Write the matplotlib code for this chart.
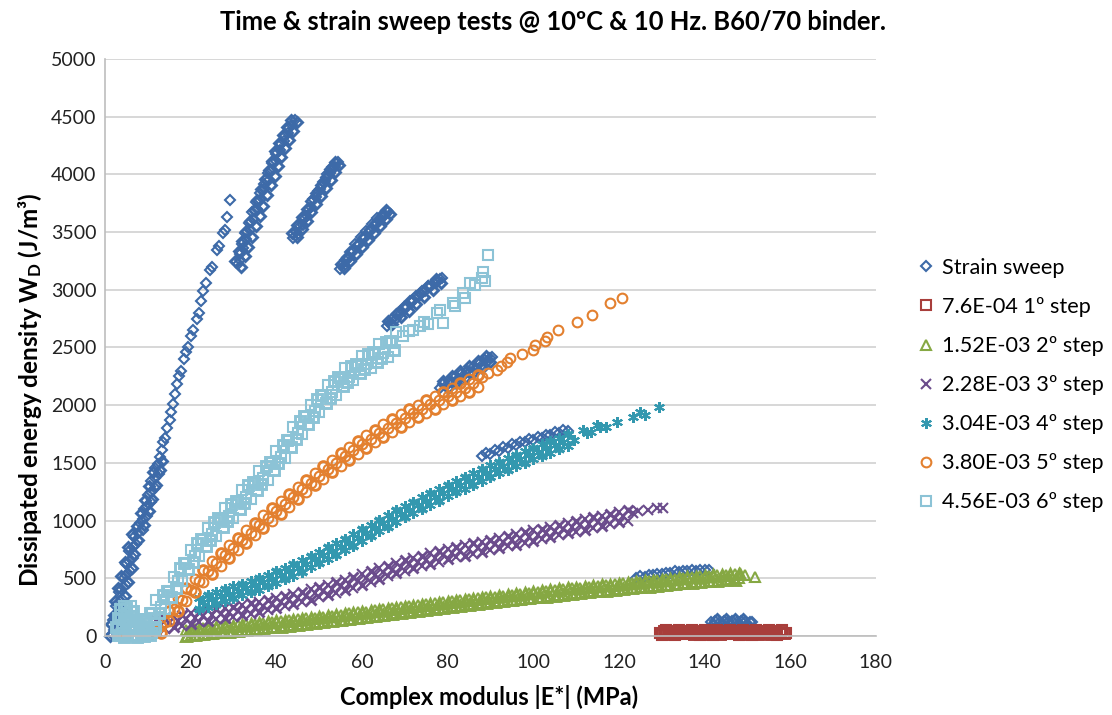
import matplotlib
matplotlib.use("Agg")
import matplotlib.pyplot as plt

plt.rcParams['font.family'] = ['Lato', 'DejaVu Sans']
plt.rcParams['mathtext.fontset'] = 'custom'
plt.rcParams['mathtext.rm'] = 'Lato'
plt.rcParams['mathtext.bf'] = 'Lato:bold'

# ---- data ----
# strain sweep (blue diamonds), segments one after another
sweep_x = [1.6, 2.2, 2.9, 1.9, 2.6, 3.4, 2.5, 3.1, 4.0, 3.2, 3.8, 5.0, 4.4, 5.0, 5.9, 5.0, 5.7, 6.5, 5.7, 6.5,
           7.3, 6.8, 7.8, 8.8, 8.1, 8.9, 9.8, 9.1, 9.9, 10.7, 10.0, 10.8, 11.6, 10.8, 11.6, 12.5, 11.7, 12.3,
           12.8, 13.2, 13.6, 14.1, 14.5, 15.2, 15.5, 15.9, 16.3, 16.8, 17.3, 17.8, 18.4, 19.0, 19.4, 20.0, 20.6,
           21.5, 21.9, 22.4, 22.9, 23.6, 24.5, 25.0, 26.1, 26.6, 27.6, 28.0, 28.5, 29.2,
           31.0, 31.6, 31.5, 32.3, 32.0, 33.0, 32.8, 33.8, 33.6, 34.6, 34.4, 35.4, 35.2, 36.2, 36.3, 37.2, 37.1,
           38.2, 38.0, 39.0, 38.9, 40.0, 40.0, 40.9, 41.0, 41.8, 42.0, 42.8, 43.0, 43.7, 44.4,
           43.9, 44.5, 45.0, 45.5, 46.2, 46.6, 47.2, 47.6, 48.2, 48.6, 49.3, 49.8, 50.3, 50.8, 51.4, 51.9, 52.5,
           53.0, 53.6, 54.4,
           54.9, 55.6, 56.0, 56.8, 57.2, 58.0, 58.4, 59.2, 59.7, 60.5, 61.0, 61.8, 62.3, 63.0, 63.6, 64.3, 65.0,
           65.4, 66.1,
           65.8, 66.6, 67.0, 67.9, 68.4, 69.2, 69.8, 70.6, 71.2, 72.0, 72.6, 73.4, 74.0, 74.8, 75.4, 76.2, 76.8,
           77.6, 78.2, 78.7,
           78.2, 79.0, 79.6, 80.4, 81.0, 81.8, 82.4, 83.2, 83.8, 84.6, 85.2, 86.0, 86.6, 87.4, 88.0, 88.8, 89.4,
           90.0, 90.4,
           88, 89, 90, 91, 92, 93, 94, 95, 96, 97, 98, 99, 100, 101, 102, 103, 104, 105, 106, 107, 108,
           124, 125, 126, 127, 128, 129, 130, 131, 132, 133, 134, 135, 136, 137, 138, 139, 140, 141,
           141.5, 142.5, 143.5, 144.5, 145.5, 146.5, 147.5, 148.5, 149.5, 150.5, 151]
sweep_y = [20, 50, 80, 140, 170, 200, 260, 290, 320, 380, 410, 440, 500, 530, 560, 620, 650, 680, 740, 770,
           800, 860, 890, 920, 980, 1010, 1040, 1100, 1130, 1160, 1220, 1250, 1280, 1340, 1370, 1400, 1460, 1490,
           1550, 1610, 1680, 1720, 1800, 1870, 1940, 2010, 2100, 2180, 2250, 2300, 2400, 2460, 2504, 2600, 2650,
           2750, 2800, 2900, 2990, 3060, 3170, 3200, 3345, 3380, 3492, 3520, 3631, 3778,
           3220, 3260, 3310, 3360, 3400, 3440, 3490, 3520, 3580, 3610, 3670, 3700, 3760, 3780, 3840, 3870, 3920,
           3950, 4010, 4040, 4100, 4120, 4180, 4211, 4260, 4290, 4330, 4360, 4400, 4430, 4471,
           3449, 3500, 3480, 3550, 3560, 3620, 3640, 3700, 3720, 3790, 3800, 3860, 3870, 3930, 3940, 4000, 4010,
           4060, 4060, 4107,
           3180, 3200, 3260, 3270, 3330, 3340, 3400, 3400, 3460, 3460, 3510, 3520, 3570, 3570, 3620, 3620, 3660,
           3650, 3674,
           2690, 2700, 2750, 2750, 2800, 2800, 2850, 2850, 2900, 2900, 2950, 2950, 2990, 2990, 3030, 3030, 3060,
           3070, 3090, 3102,
           2150, 2180, 2170, 2210, 2200, 2240, 2230, 2270, 2260, 2300, 2290, 2330, 2320, 2360, 2350, 2390, 2380,
           2410, 2418,
           1560, 1590, 1580, 1610, 1605, 1635, 1630, 1660, 1655, 1685, 1680, 1705, 1700, 1725, 1720, 1745, 1740,
           1765, 1760, 1785, 1780,
           505, 520, 515, 530, 525, 540, 535, 550, 545, 560, 555, 565, 560, 570, 565, 572, 568, 570,
           120, 130, 118, 128, 120, 130, 118, 128, 120, 125, 120]
# more strain sweep points inside the thick parts of the cloud
sweep_x2 = [1.2, 3.3, 1.5, 3.6, 2.0, 4.0, 2.3, 4.6, 3.0, 5.4, 3.8, 6.2, 4.6, 6.8, 5.3, 7.8, 6.2, 9.2, 7.4, 10.2,
            8.5, 11.0, 9.4, 12.0, 10.3, 12.8, 11.2, 13.2,
            31.8, 32.7, 33.5, 34.4, 35.3, 36.2, 37.0, 37.9, 38.8, 39.6, 40.4, 41.2, 42.0, 42.9, 43.9, 44.8,
            30.4, 31.3, 32.1, 33.0, 33.9, 34.7, 35.6, 36.5, 37.4, 38.2, 39.0, 39.8, 40.7, 41.5, 42.5, 43.5,
            44.9, 46.0, 47.1, 48.2, 49.3, 50.4, 51.5, 52.7, 53.8, 54.7, 43.7, 44.9, 46.0, 47.1, 48.2, 49.3,
            50.4, 51.5, 52.6, 53.6,
            55.9, 57.3, 58.7, 60.0, 61.4, 62.7, 64.1, 65.5, 66.6, 55.0, 56.4, 57.7, 59.1, 60.5, 61.8, 63.2,
            64.6, 65.7,
            67.1, 69.0, 70.9, 72.7, 74.6, 76.5, 78.4, 66.0, 67.9, 69.8, 71.7, 73.6, 75.4, 77.3,
            79, 81, 83, 85, 87, 89, 80, 82, 84, 86, 88, 90,
            142, 144, 146, 148, 150, 143, 145, 147, 149]
sweep_y2 = [0, 40, 100, 120, 180, 230, 300, 350, 420, 470, 520, 590, 640, 710, 770, 830, 880, 960, 950, 1080,
            1070, 1190, 1180, 1310, 1300, 1440, 1420, 1520,
            3200, 3290, 3370, 3460, 3550, 3640, 3730, 3820, 3910, 3990, 4070, 4150, 4230, 4300, 4380, 4450,
            3250, 3340, 3420, 3510, 3600, 3690, 3780, 3870, 3960, 4040, 4120, 4200, 4270, 4340, 4410, 4470,
            3460, 3530, 3600, 3670, 3740, 3810, 3880, 3950, 4020, 4080, 3490, 3560, 3630, 3700, 3770, 3840,
            3910, 3980, 4050, 4110,
            3190, 3250, 3310, 3370, 3430, 3490, 3550, 3610, 3660, 3220, 3280, 3340, 3400, 3460, 3520, 3580,
            3640, 3690,
            2700, 2760, 2820, 2880, 2940, 3000, 3060, 2730, 2790, 2850, 2910, 2970, 3030, 3090,
            2208, 2252, 2296, 2340, 2384, 2428, 2150, 2194, 2238, 2282, 2326, 2370,
            100, 105, 100, 105, 100, 145, 148, 145, 145]

# 7.6E-04 1º step (red squares)
step1_x = [129.5, 130, 131, 132, 133, 134, 135, 136, 137, 138, 139, 140, 141, 142, 143, 144, 145, 146, 147,
           148, 149, 150, 151, 152, 153, 154, 155, 156, 157, 158, 159]
step1_y = [30, 12, 50, 30, 12, 48, 30, 14, 50, 28, 12, 48, 30, 12, 50, 30, 14, 48, 30, 12,
           50, 30, 12, 48, 30, 14, 50, 28, 12, 48, 30]
step1_x2 = [130.5, 131.5, 132.5, 133.5, 134.5, 135.5, 136.5, 137.5, 138.5, 139.5, 140.5, 141.5, 142.5, 143.5,
            144.5, 145.5, 146.5, 147.5, 148.5, 149.5, 150.5, 151.5, 152.5, 153.5, 154.5, 155.5, 156.5, 157.5,
            158.5]
step1_y2 = [40, 20, 45, 35, 22, 42, 38, 18, 45, 35, 20, 42, 40, 20, 45, 35, 22, 42, 38, 18, 45, 35, 20, 42,
            40, 20, 45, 35, 22]

# 1.52E-03 2º step (green triangles)
step2_x = [19, 20, 21, 22, 23, 24, 25, 26, 27, 28, 29, 30, 31, 32, 33, 34, 35, 36, 37, 38, 39, 40,
           41, 42, 43, 44, 45, 46, 47, 48, 49, 50, 51, 52, 53, 54, 55, 56, 57, 58, 59, 60,
           61, 62, 63, 64, 65, 66, 67, 68, 69, 70, 71, 72, 73, 74, 75, 76, 77, 78, 79, 80,
           81, 82, 83, 84, 85, 86, 87, 88, 89, 90, 91, 92, 93, 94, 95, 96, 97, 98, 99, 100,
           101, 102, 103, 104, 105, 106, 107, 108, 109, 110, 111, 112, 113, 114, 115, 116, 117, 118, 119, 120,
           121, 122, 123, 124, 125, 126, 127, 128, 129, 130, 131, 132, 133, 134, 135, 136, 137, 138, 139, 140,
           141, 142, 143, 144, 145, 146, 147, 148, 148.3, 149.5, 151.8]
step2_y = [50, 5, 58, 12, 65, 20, 72, 28, 80, 35, 86, 40, 92, 48, 100, 55, 108, 62, 115, 70, 122, 78,
           130, 86, 138, 94, 145, 102, 152, 110, 160, 118, 168, 126, 176, 134, 185, 142, 195, 150, 204, 160,
           212, 168, 221, 176, 230, 186, 240, 195, 248, 205, 258, 214, 268, 224, 276, 232, 284, 240, 292, 250,
           300, 258, 310, 266, 318, 274, 326, 284, 334, 292, 342, 300, 350, 308, 358, 316, 366, 324, 374, 333,
           382, 340, 390, 348, 398, 356, 406, 364, 414, 372, 420, 380, 427, 386, 434, 392, 441, 398, 448, 405,
           455, 412, 462, 418, 469, 425, 476, 432, 483, 438, 490, 445, 497, 452, 504, 459, 511, 466, 518, 472,
           523, 478, 528, 484, 532, 490, 535, 505, 546, 530, 515]
step2_x2 = step2_x[:130]
step2_y2 = [2, 53, 10, 60, 17, 68, 24, 76, 32, 83, 38, 88, 44, 96, 52, 103, 60, 110, 67, 118, 74, 126,
            82, 134, 90, 142, 97, 150, 104, 158, 112, 166, 120, 174, 128, 182, 137, 190, 147, 198, 156, 208,
            164, 216, 173, 224, 182, 234, 192, 243, 200, 253, 210, 262, 220, 272, 228, 280, 236, 288, 244, 298,
            252, 306, 262, 314, 270, 322, 278, 332, 286, 340, 294, 348, 302, 356, 310, 364, 318, 372, 326, 381,
            334, 388, 342, 396, 350, 404, 358, 412, 366, 420, 372, 428, 379, 434, 386, 440, 393, 446, 400, 453,
            407, 460, 414, 466, 421, 473, 428, 480, 435, 486, 442, 493, 449, 500, 456, 507, 463, 514, 470, 520,
            475, 526, 480, 532, 484, 538, 487, 540]

# 2.28E-03 3º step (purple crosses)
step3_x = [10.5, 11.5, 12, 13, 14, 15, 16, 17, 18, 19, 20, 21, 22, 23, 24, 25, 26, 27, 28, 29, 30,
           31, 32, 33, 34, 35, 36, 37, 38, 39, 40, 41, 42, 43, 44, 45, 46, 47, 48, 49, 50,
           51, 52, 53, 54, 55, 56, 57, 58, 59, 60, 61, 62, 63, 64, 65, 66, 67, 68, 69, 70,
           71, 72, 73, 74, 75, 76, 77, 78, 79, 80, 81, 82, 83, 84, 85, 86, 87, 88, 89, 90,
           91, 92, 93, 94, 95, 96, 97, 98, 99, 100, 101, 102, 103, 104, 105, 106, 107, 108, 109, 110,
           111, 112, 113, 114, 115, 116, 117, 118, 119, 120, 121, 122, 123.3, 124.5, 126.8, 128.9, 130.3]
step3_y = [20, 50, 135, 98, 60, 113, 165, 128, 90, 143, 195, 158, 120, 171, 221, 182, 143, 193, 244, 204, 165,
           217, 268, 230, 192, 243, 295, 259, 223, 277, 331, 294, 258, 312, 366, 330, 295, 350, 405, 370, 335,
           390, 445, 410, 375, 430, 485, 450, 418, 477, 535, 503, 472, 530, 586, 553, 519, 576, 632, 599, 565,
           620, 675, 640, 605, 660, 715, 680, 645, 700, 755, 718, 681, 734, 787, 750, 712, 765, 818, 781, 744,
           797, 850, 813, 776, 829, 882, 846, 809, 862, 915, 878, 841, 894, 947, 910, 873, 926, 979, 942, 905,
           958, 1011, 974, 937, 990, 1043, 1006, 969, 1022, 1075, 1038, 1000, 1066, 1085, 1092, 1109, 1109]
step3_x2 = [12, 14, 16, 18, 20, 22, 24, 26, 28, 30, 32, 34, 36, 38, 40, 42, 44, 46, 48, 50, 52, 54, 56, 58,
            60, 62, 64, 66, 68, 70, 72, 74, 76, 78, 80, 82, 84, 86, 88, 90, 92, 94, 96, 98, 100, 102, 104,
            106, 108, 110, 112, 114, 116, 118, 120, 122]
step3_y2 = [45, 150, 75, 180, 105, 210, 131, 233, 154, 255, 178, 282, 205, 313, 241, 348, 276, 385, 315, 425,
            355, 465, 395, 508, 445, 562, 496, 609, 542, 655, 585, 695, 625, 735, 665, 771, 697, 802, 728, 834,
            760, 866, 792, 899, 825, 931, 857, 963, 889, 995, 921, 1027, 953, 1059, 985, 1090]

# 3.04E-03 4º step (teal asterisks)
step4_x = [11, 12, 22, 23, 24, 25, 26, 27, 28, 29, 30, 31, 32, 33, 34, 35, 36, 37, 38, 39, 40,
           41, 42, 43, 44, 45, 46, 47, 48, 49, 50, 51, 52, 53, 54, 55, 56, 57, 58, 59, 60,
           61, 62, 63, 64, 65, 66, 67, 68, 69, 70, 71, 72, 73, 74, 75, 76, 77, 78, 79, 80,
           81, 82, 83, 84, 85, 86, 87, 88, 89, 90, 91, 92, 93, 94, 95, 96, 97, 98, 99, 100,
           101, 102, 103, 104, 105, 106, 107, 108,
           109.5, 111.6, 112.5, 113.5, 114.8, 115.6, 117.0, 119.5, 123.3, 124.9, 126.0, 129.4]
step4_y = [20, 40, 330, 293, 255, 318, 380, 343, 305, 368, 430, 392, 353, 415, 477, 438, 400, 466, 531, 497, 462,
           528, 593, 559, 524, 590, 658, 627, 595, 663, 732, 700, 668, 737, 805, 773, 742, 810, 881, 852, 823,
           893, 964, 935, 906, 977, 1048, 1018, 989, 1060, 1128, 1096, 1065, 1133, 1201, 1169, 1137, 1205, 1274,
           1242, 1210, 1277, 1344, 1311, 1278, 1345, 1412, 1379, 1346, 1413, 1480, 1445, 1410, 1475, 1540, 1505,
           1470, 1535, 1600, 1565, 1530, 1595, 1660, 1625, 1590, 1655, 1720, 1685, 1650,
           1700, 1785, 1757, 1770, 1828, 1810, 1815, 1854, 1898, 1941, 1915, 1985]
step4_x2 = [22, 24, 26, 28, 30, 32, 34, 36, 38, 40, 42, 44, 46, 48, 50, 52, 54, 56, 58, 60, 62, 64,
            66, 68, 70, 72, 74, 76, 78, 80, 82, 84, 86, 88, 90, 92, 94, 96, 98, 100, 102, 104, 106, 108]
step4_y2 = [230, 355, 280, 405, 330, 453, 377, 500, 431, 562, 493, 624, 558, 695, 632, 768, 705, 842, 781, 923,
            864, 1006, 948, 1089, 1028, 1165, 1101, 1237, 1174, 1310, 1244, 1378, 1312, 1446, 1380, 1510, 1440,
            1570, 1500, 1630, 1560, 1690, 1620, 1750]

# 3.80E-03 5º step (orange circles)
step5_x = [5, 12, 13, 14, 15, 16, 17, 18, 19, 20, 21, 22, 23, 24, 25, 26, 27, 28, 29, 30,
           31, 32, 33, 34, 35, 36, 37, 38, 39, 40, 41, 42, 43, 44, 45, 46, 47, 48, 49, 50,
           51, 52, 53, 54, 55, 56, 57, 58, 59, 60, 61, 62, 63, 64, 65, 66, 67, 68, 69, 70,
           71, 72, 73, 74, 75, 76, 77, 78, 79, 80, 81, 82, 83, 84, 85, 86, 87,
           88.0, 89.5, 91.5, 92.5, 93.9, 94.6, 97.4, 99.9, 100.4, 102.7, 103.3, 105.8, 110.2, 113.7,
           117.9, 120.7]
step5_y = [10, 40, 90, 117, 128, 230, 327, 315, 303, 400, 495, 480, 465, 560, 650, 630, 610, 700, 787, 765,
           742, 830, 917, 895, 872, 960, 1045, 1020, 995, 1080, 1167, 1144, 1121, 1208, 1295, 1270, 1245, 1330,
           1415, 1390, 1363, 1446, 1529, 1502, 1475, 1556, 1637, 1608, 1579, 1660, 1739, 1708, 1677, 1756, 1835,
           1802, 1769, 1846, 1923, 1890, 1855, 1930, 2005, 1970, 1935, 2008, 2081, 2044, 2007, 2080, 2153, 2115,
           2078, 2150, 2225, 2190, 2155,
           2240, 2275, 2305, 2340, 2374, 2409, 2440, 2478, 2522, 2552, 2595, 2652, 2721, 2782,
           2886, 2929]
step5_x2 = [13, 15, 17, 19, 21, 23, 25, 27, 29, 31, 33, 35, 37, 39, 41, 43, 45, 47, 49, 51, 53, 55, 57, 59,
            61, 63, 65, 67, 69, 71, 73, 75, 77, 79, 81, 83, 85, 87]
step5_y2 = [30, 218, 217, 413, 385, 575, 540, 720, 677, 852, 807, 982, 935, 1105, 1057, 1231, 1185, 1355, 1305,
            1473, 1419, 1585, 1527, 1689, 1629, 1787, 1725, 1879, 1813, 1965, 1895, 2045, 1971, 2117, 2043,
            2188, 2115, 2265]

# 4.56E-03 6º step (light blue squares)
step6_x = [3.0, 3.5, 3.8, 4.0, 4.5, 5.0, 5.2, 5.5, 6.0, 6.5, 7.0, 7.5, 8.0, 9.0, 10.0, 11.0, 12.0,
           8, 9, 10, 11, 12, 13, 14, 15, 16, 17, 18, 19, 20, 21, 22, 23, 24, 25, 26, 27, 28, 29, 30,
           31, 32, 33, 34, 35, 36, 37, 38, 39, 40, 41, 42, 43, 44, 45, 46, 47, 48, 49, 50,
           51, 52, 53, 54, 55, 56, 57, 58, 59, 60, 61, 62, 63, 64, 65, 66, 67, 68,
           69.5, 71.0, 71.9, 73.5, 74.5, 75.5, 77.5, 78.2, 78.9, 81.3, 81.7, 83.6, 84.0, 85.2, 86.5, 88.0,
           88.3, 88.7, 89.4]
step6_y = [80, 0, 180, 30, 260, 120, 200, 60, 260, 10, 120, 0, 40, 10, 60, 30, 80,
           100, 75, 50, 200, 310, 253, 236, 390, 513, 477, 480, 632, 745, 697, 690, 835, 940, 885, 870, 1008,
           1105, 1043, 1020, 1161, 1262, 1204, 1185, 1327, 1430, 1372, 1355, 1497, 1600, 1552, 1544, 1696, 1808,
           1760, 1748, 1896, 2004, 1952, 1940, 2078, 2176, 2114, 2092, 2230, 2318, 2246, 2214, 2342, 2430, 2354,
           2318, 2442, 2526, 2450, 2417, 2543, 2630,
           2600, 2640, 2652, 2690, 2720, 2700, 2799, 2825, 2712, 2886, 2860, 2975, 2930, 3059, 3040, 3102,
           3154, 3080, 3302]
step6_x2 = [8.5, 9.5, 10.5, 11.5, 12.5, 13.5, 14.5, 15.5, 16.5, 17.5, 18.5, 19.5, 20.5, 21.5, 22.5, 23.5,
            24.5, 25.5, 26.5, 27.5, 28.5, 29.5, 30.5, 31.5, 32.5, 33.5, 34.5, 35.5, 36.5, 37.5, 38.5, 39.5,
            40.5, 41.5, 42.5, 43.5, 44.5, 45.5, 46.5, 47.5, 48.5, 49.5, 50.5, 51.5, 52.5, 53.5, 54.5, 55.5,
            56.5, 57.5, 58.5, 59.5, 60.5, 61.5, 62.5, 63.5, 64.5, 65.5, 66.5, 67.5,
            3, 4.5, 6, 7.5, 9, 10.5, 2.5, 4, 5.5, 7, 8.5, 10, 11.5, 3, 4.5, 6, 7.5, 9, 3.5, 5, 6.5]
step6_y2 = [40, 150, 200, 160, 202, 355, 393, 342, 415, 589, 636, 579, 641, 804, 843, 778, 833, 988, 1019, 947,
            994, 1142, 1171, 1102, 1153, 1305, 1336, 1269, 1321, 1474, 1506, 1439, 1496, 1658, 1700, 1642, 1704,
            1864, 1902, 1840, 1898, 2056, 2089, 2017, 2065, 2213, 2241, 2164, 2202, 2340, 2358, 2276, 2312, 2446,
            2460, 2374, 2408, 2544, 2560, 2477,
            5, -10, 10, -5, 0, 10, 80, 70, 90, 75, 85, 70, 60, 160, 150, 170, 150, 140, 230, 240, 220]

labels = ['Strain sweep', '7.6E-04 1º step', '1.52E-03 2º step', '2.28E-03 3º step',
          '3.04E-03 4º step', '3.80E-03 5º step', '4.56E-03 6º step']

series = [(sweep_x, sweep_y, sweep_x2, sweep_y2, 'D', '#3D6AA8', 5.0),
          (step1_x, step1_y, step1_x2, step1_y2, 's', '#A83E3B', 6.8),
          (step2_x, step2_y, step2_x2, step2_y2, '^', '#86A843', 7.0),
          (step3_x, step3_y, step3_x2, step3_y2, 'x', '#6B4C8C', 6.8),
          (step4_x, step4_y, step4_x2, step4_y2, (6, 2, 0), '#3398AF', 7.8),
          (step5_x, step5_y, step5_x2, step5_y2, 'o', '#E3802F', 7.0),
          (step6_x, step6_y, step6_x2, step6_y2, 's', '#8CC3D6', 6.8)]

fig = plt.figure(figsize=(11.12, 7.15), dpi=100)
ax = fig.add_axes([0.0944, 0.1105, 0.6933, 0.807])

for (xs, ys, xs2, ys2, mk, col, ms), lab in zip(series, labels):
    # points packed inside the dense clouds, heavier outline so the cloud reads as solid
    ax.plot(xs2, ys2, linestyle='none', marker=mk, markersize=ms, mfc='none', mec=col,
            mew=2.1, clip_on=False)
    ax.plot(xs, ys, linestyle='none', marker=mk, markersize=ms, mfc='none', mec=col,
            mew=1.5, label=lab, clip_on=False)

ax.set_xlim(0, 180)
ax.set_ylim(0, 5000)
ax.set_xticks(range(0, 181, 20))
ax.set_yticks(range(0, 5001, 500))
ax.grid(axis='y', color='#D4D4D4', linewidth=1.3)
ax.set_axisbelow(True)
for s in ['top', 'right']:
    ax.spines[s].set_visible(False)
for s in ['left', 'bottom']:
    ax.spines[s].set_color('#BDBDBD')
    ax.spines[s].set_linewidth(1.2)
ax.tick_params(axis='both', length=0, labelsize=14, colors='#222222')
ax.tick_params(axis='x', pad=13)
ax.tick_params(axis='y', pad=6)

fig.text(0.497, 0.969, 'Time & strain sweep tests @ 10ºC & 10 Hz. B60/70 binder.',
         ha='center', va='center', fontsize=18.4, fontweight='bold')
fig.text(0.44, 0.025, 'Complex modulus |E*| (MPa)', ha='center', va='center',
         fontsize=17, fontweight='bold')
fig.text(0.027, 0.455, r'Dissipated energy density $\mathbf{W_D}$ (J/m³)', ha='center', va='center',
         rotation=90, fontsize=17.5, fontweight='bold')

ax.legend(loc='upper left', bbox_to_anchor=(918 / 1112, 1 - 258 / 715),
          bbox_transform=fig.transFigure, frameon=False, fontsize=15.6,
          handlelength=0.7, handletextpad=0.4, labelspacing=0.88,
          borderpad=0, borderaxespad=0)

fig.savefig('out.png', dpi=100)
